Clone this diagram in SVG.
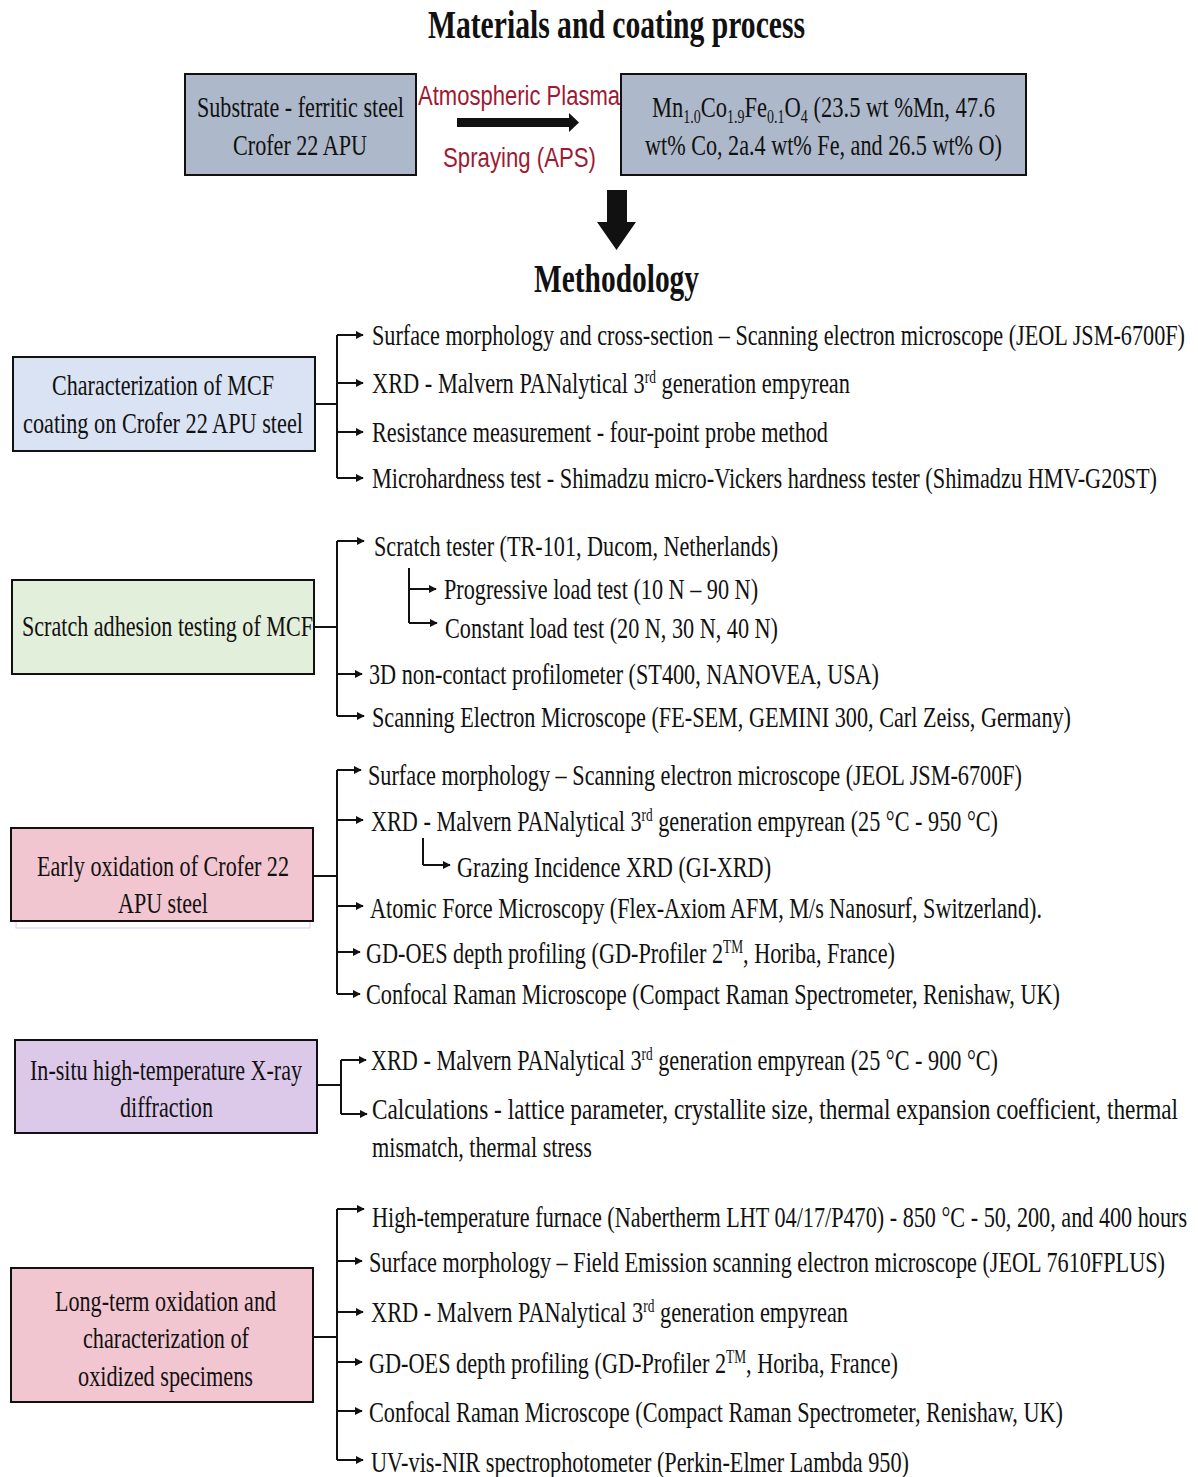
<svg xmlns="http://www.w3.org/2000/svg" width="1198" height="1477" viewBox="0 0 1198 1477">
<style>
text{font-family:"Liberation Serif","Times New Roman",serif;fill:#111;}
.t{font-size:30px;}
.b{font-size:29px;}
.h{font-size:40px;font-weight:bold;}
.r{font-family:"Liberation Sans",Arial,sans-serif;font-size:28px;fill:#9e1a34;}
.box{stroke:#111;stroke-width:2;}
.c{fill:none;stroke:#111;stroke-width:2;}
.a{fill:none;stroke:#111;stroke-width:2;marker-end:url(#ah);}
</style>
<defs>
<marker id="ah" viewBox="0 0 10 10" refX="9" refY="5" markerWidth="4" markerHeight="4" markerUnits="strokeWidth" orient="auto">
<path d="M0,0 L10,5 L0,10 z" fill="#111"/>
</marker>
</defs>
<rect width="1198" height="1477" fill="#fff"/>

<text class="h" transform="translate(428,38) scale(0.75,1)" textLength="502.7" lengthAdjust="spacingAndGlyphs">Materials and coating process</text>

<g id="substrate">
<rect class="box" x="185" y="74" width="231" height="101" fill="#adb9ca"/>
<text class="b" transform="translate(197,117) scale(0.75,1)" textLength="276" lengthAdjust="spacingAndGlyphs">Substrate - ferritic steel</text>
<text class="b" transform="translate(233,155) scale(0.75,1)" textLength="178.7" lengthAdjust="spacingAndGlyphs">Crofer 22 APU</text>
</g>

<g id="aps">
<text class="r" transform="translate(418,105) scale(0.8,1)" textLength="252.5" lengthAdjust="spacingAndGlyphs">Atmospheric Plasma</text>
<text class="r" transform="translate(443,167) scale(0.8,1)" textLength="191.2" lengthAdjust="spacingAndGlyphs">Spraying (APS)</text>
<path d="M457,118 H569 V113 L579,122.5 L569,132 V127 H457 z" fill="#111"/>
</g>

<g id="coating">
<rect class="box" x="621" y="74" width="405" height="101" fill="#adb9ca"/>
<text class="b" transform="translate(652,117) scale(0.75,1)" textLength="457.3" lengthAdjust="spacingAndGlyphs">Mn<tspan font-size="18" dy="6">1.0</tspan><tspan dy="-6">Co</tspan><tspan font-size="18" dy="6">1.9</tspan><tspan dy="-6">Fe</tspan><tspan font-size="18" dy="6">0.1</tspan><tspan dy="-6">O</tspan><tspan font-size="18" dy="6">4</tspan><tspan dy="-6"> (23.5 wt %Mn, 47.6</tspan></text>
<text class="b" transform="translate(645,155) scale(0.75,1)" textLength="476" lengthAdjust="spacingAndGlyphs">wt% Co, 2a.4 wt% Fe, and 26.5 wt% O)</text>
</g>

<path id="down-arrow" d="M607,190 H627 V222 H636 L616.5,250 L597,222 H607 z" fill="#111"/>

<text class="h" transform="translate(534,292) scale(0.75,1)" textLength="220" lengthAdjust="spacingAndGlyphs">Methodology</text>

<g id="characterization">
<rect class="box" x="13" y="357" width="302" height="94" fill="#dae3f3"/>
<text class="b" transform="translate(52,395) scale(0.75,1)" textLength="296" lengthAdjust="spacingAndGlyphs">Characterization of MCF</text>
<text class="b" transform="translate(23,433) scale(0.75,1)" textLength="373.3" lengthAdjust="spacingAndGlyphs">coating on Crofer 22 APU steel</text>
</g>
<g id="scratch">
<rect class="box" x="12" y="580" width="302" height="94" fill="#e2efda"/>
<text class="b" transform="translate(22,636) scale(0.75,1)" textLength="388" lengthAdjust="spacingAndGlyphs">Scratch adhesion testing of MCF</text>
</g>
<g id="early-oxidation">
<rect x="16" y="857" width="294" height="71" fill="none" stroke="#d9c8ef" stroke-width="1"/>
<rect class="box" x="11" y="828" width="302" height="93" fill="#f2c6d0"/>
<text class="b" transform="translate(37,876) scale(0.75,1)" textLength="336" lengthAdjust="spacingAndGlyphs">Early oxidation of Crofer 22</text>
<text class="b" transform="translate(118,913) scale(0.75,1)" textLength="120" lengthAdjust="spacingAndGlyphs">APU steel</text>
</g>
<g id="insitu">
<rect class="box" x="15" y="1040" width="302" height="93" fill="#dcc9ea"/>
<text class="b" transform="translate(30,1080) scale(0.75,1)" textLength="362.7" lengthAdjust="spacingAndGlyphs">In-situ high-temperature X-ray</text>
<text class="b" transform="translate(120,1117) scale(0.75,1)" textLength="124" lengthAdjust="spacingAndGlyphs">diffraction</text>
</g>
<g id="long-term">
<rect class="box" x="11" y="1268" width="302" height="134" fill="#f2c6d0"/>
<text class="b" transform="translate(55,1311) scale(0.75,1)" textLength="294.7" lengthAdjust="spacingAndGlyphs">Long-term oxidation and</text>
<text class="b" transform="translate(83,1348) scale(0.75,1)" textLength="221.3" lengthAdjust="spacingAndGlyphs">characterization of</text>
<text class="b" transform="translate(78,1386) scale(0.75,1)" textLength="233.3" lengthAdjust="spacingAndGlyphs">oxidized specimens</text>
</g>

<g id="items">
<text class="t" transform="translate(372,345) scale(0.75,1)" textLength="1084" lengthAdjust="spacingAndGlyphs">Surface morphology and cross-section – Scanning electron microscope (JEOL JSM-6700F)</text>
<text class="t" transform="translate(372,393) scale(0.75,1)" textLength="637.3" lengthAdjust="spacingAndGlyphs">XRD - Malvern PANalytical 3<tspan font-size="18" dy="-10">rd</tspan><tspan dy="10"> generation empyrean</tspan></text>
<text class="t" transform="translate(372,442) scale(0.75,1)" textLength="608" lengthAdjust="spacingAndGlyphs">Resistance measurement - four-point probe method</text>
<text class="t" transform="translate(372,488) scale(0.75,1)" textLength="1046.7" lengthAdjust="spacingAndGlyphs">Microhardness test - Shimadzu micro-Vickers hardness tester (Shimadzu HMV-G20ST)</text>

<text class="t" transform="translate(374,556) scale(0.75,1)" textLength="538.7" lengthAdjust="spacingAndGlyphs">Scratch tester (TR-101, Ducom, Netherlands)</text>
<text class="t" transform="translate(444,599) scale(0.75,1)" textLength="418.7" lengthAdjust="spacingAndGlyphs">Progressive load test (10 N – 90 N)</text>
<text class="t" transform="translate(445,638) scale(0.75,1)" textLength="444" lengthAdjust="spacingAndGlyphs">Constant load test (20 N, 30 N, 40 N)</text>
<text class="t" transform="translate(369,684) scale(0.75,1)" textLength="680" lengthAdjust="spacingAndGlyphs">3D non-contact profilometer (ST400, NANOVEA, USA)</text>
<text class="t" transform="translate(372,727) scale(0.75,1)" textLength="932" lengthAdjust="spacingAndGlyphs">Scanning Electron Microscope (FE-SEM, GEMINI 300, Carl Zeiss, Germany)</text>

<text class="t" transform="translate(368,785) scale(0.75,1)" textLength="872" lengthAdjust="spacingAndGlyphs">Surface morphology – Scanning electron microscope (JEOL JSM-6700F)</text>
<text class="t" transform="translate(371,831) scale(0.75,1)" textLength="836" lengthAdjust="spacingAndGlyphs">XRD - Malvern PANalytical 3<tspan font-size="18" dy="-10">rd</tspan><tspan dy="10"> generation empyrean (25 °C - 950 °C)</tspan></text>
<text class="t" transform="translate(457,877) scale(0.75,1)" textLength="418.7" lengthAdjust="spacingAndGlyphs">Grazing Incidence XRD (GI-XRD)</text>
<text class="t" transform="translate(370,918) scale(0.75,1)" textLength="896" lengthAdjust="spacingAndGlyphs">Atomic Force Microscopy (Flex-Axiom AFM, M/s Nanosurf, Switzerland).</text>
<text class="t" transform="translate(366,963) scale(0.75,1)" textLength="705.3" lengthAdjust="spacingAndGlyphs">GD-OES depth profiling (GD-Profiler 2<tspan font-size="18" dy="-10">TM</tspan><tspan dy="10">, Horiba, France)</tspan></text>
<text class="t" transform="translate(366,1004) scale(0.75,1)" textLength="925.3" lengthAdjust="spacingAndGlyphs">Confocal Raman Microscope (Compact Raman Spectrometer, Renishaw, UK)</text>

<text class="t" transform="translate(371,1070) scale(0.75,1)" textLength="836" lengthAdjust="spacingAndGlyphs">XRD - Malvern PANalytical 3<tspan font-size="18" dy="-10">rd</tspan><tspan dy="10"> generation empyrean (25 °C - 900 °C)</tspan></text>
<text class="t" transform="translate(372,1119) scale(0.75,1)" textLength="1074.7" lengthAdjust="spacingAndGlyphs">Calculations - lattice parameter, crystallite size, thermal expansion coefficient, thermal</text>
<text class="t" transform="translate(372,1157) scale(0.75,1)" textLength="293.3" lengthAdjust="spacingAndGlyphs">mismatch, thermal stress</text>

<text class="t" transform="translate(372,1227) scale(0.75,1)" textLength="1086.7" lengthAdjust="spacingAndGlyphs">High-temperature furnace (Nabertherm LHT 04/17/P470) - 850 °C - 50, 200, and 400 hours</text>
<text class="t" transform="translate(369,1272) scale(0.75,1)" textLength="1061.3" lengthAdjust="spacingAndGlyphs">Surface morphology – Field Emission scanning electron microscope (JEOL 7610FPLUS)</text>
<text class="t" transform="translate(371,1322) scale(0.75,1)" textLength="636" lengthAdjust="spacingAndGlyphs">XRD - Malvern PANalytical 3<tspan font-size="18" dy="-10">rd</tspan><tspan dy="10"> generation empyrean</tspan></text>
<text class="t" transform="translate(369,1373) scale(0.75,1)" textLength="705.3" lengthAdjust="spacingAndGlyphs">GD-OES depth profiling (GD-Profiler 2<tspan font-size="18" dy="-10">TM</tspan><tspan dy="10">, Horiba, France)</tspan></text>
<text class="t" transform="translate(369,1422) scale(0.75,1)" textLength="925.3" lengthAdjust="spacingAndGlyphs">Confocal Raman Microscope (Compact Raman Spectrometer, Renishaw, UK)</text>
<text class="t" transform="translate(371,1472) scale(0.75,1)" textLength="717.3" lengthAdjust="spacingAndGlyphs">UV-vis-NIR spectrophotometer (Perkin-Elmer Lambda 950)</text>
</g>

<g id="connectors">
<path class="c" d="M315,404 H337 M337,335 V478"/>
<path class="a" d="M337,335 H363"/>
<path class="a" d="M337,383 H363"/>
<path class="a" d="M337,432 H363"/>
<path class="a" d="M337,478 H363"/>

<path class="c" d="M314,627 H337 M337,541 V716"/>
<path class="a" d="M337,541 H364"/>
<path class="c" d="M409,568 V623"/>
<path class="a" d="M409,589 H436"/>
<path class="a" d="M409,623 H437"/>
<path class="a" d="M337,674 H362"/>
<path class="a" d="M337,716 H364"/>

<path class="c" d="M313,876 H337 M337,770 V994"/>
<path class="a" d="M337,770 H361"/>
<path class="a" d="M337,820 H363"/>
<path class="c" d="M423,838 V865"/>
<path class="a" d="M423,865 H450"/>
<path class="a" d="M337,906 H363"/>
<path class="a" d="M337,952 H360"/>
<path class="a" d="M337,994 H360"/>

<path class="c" d="M317,1085 H341 M341,1060 V1114"/>
<path class="a" d="M341,1060 H366"/>
<path class="a" d="M341,1114 H367"/>

<path class="c" d="M313,1337 H337 M337,1209 V1460"/>
<path class="a" d="M337,1209 H364"/>
<path class="a" d="M337,1261 H362"/>
<path class="a" d="M337,1312 H363"/>
<path class="a" d="M337,1362 H362"/>
<path class="a" d="M337,1411 H362"/>
<path class="a" d="M337,1460 H363"/>
</g>
</svg>
